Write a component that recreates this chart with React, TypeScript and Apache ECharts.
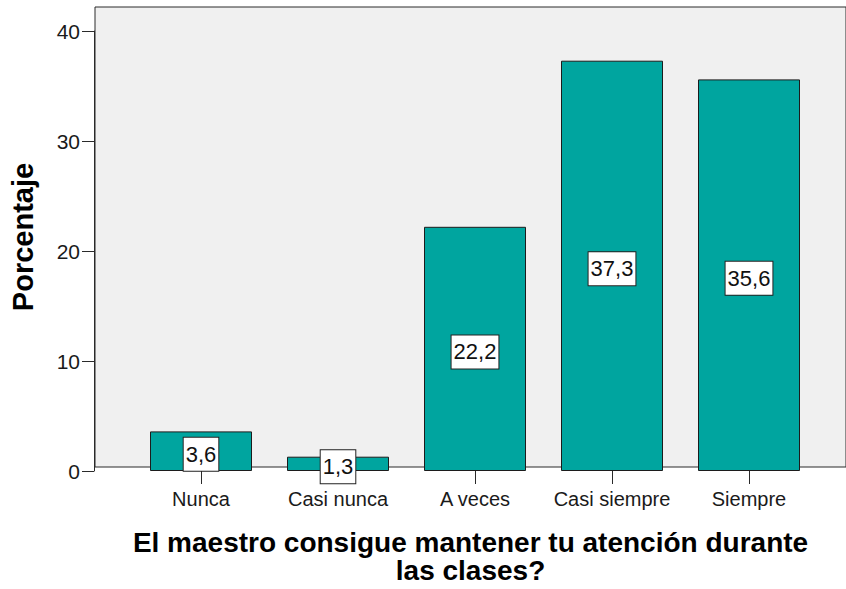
import React, { useEffect, useRef } from "react";
import * as echarts from "echarts";

const categories = ["Nunca", "Casi nunca", "A veces", "Casi siempre", "Siempre"];
const percentages = [3.6, 1.3, 22.2, 37.3, 35.6];
const yTicks = [0, 10, 20, 30, 40];
const yAxisTitle = "Porcentaje";
const xAxisTitle = "El maestro consigue mantener tu atención durante\nlas clases?";

const FONT = "'Liberation Sans', Arial, Helvetica, sans-serif";

export default function App() {
  const ref = useRef<HTMLDivElement>(null);
  useEffect(() => {
    if (!ref.current) return;
    const chart = echarts.init(ref.current, undefined, { renderer: "svg" });
    const yMin = yTicks[0];
    const yMax = yTicks[yTicks.length - 1];
    chart.setOption({
      animation: false,
      backgroundColor: "#ffffff",
      textStyle: { fontFamily: FONT },
      grid: [
        {
          left: 94,
          top: 7,
          width: 762,
          height: 464,
          show: true,
          backgroundColor: "#f0f0f0",
          borderColor: "#2a2a2a",
          borderWidth: 1,
        },
        {
          left: 132.5,
          top: 31,
          width: 685,
          height: 440,
        },
      ],
      xAxis: [
        {
          gridIndex: 0,
          type: "value",
          min: 0,
          max: 1,
          axisLine: { show: false },
          axisTick: { show: false },
          axisLabel: { show: false },
          splitLine: { show: false },
          name: xAxisTitle,
          nameLocation: "middle",
          nameGap: 61,
          nameTextStyle: {
            fontFamily: FONT,
            fontSize: 28,
            fontWeight: "bold",
            color: "#000",
            lineHeight: 28,
            align: "center",
          },
        },
        {
          gridIndex: 1,
          type: "category",
          data: categories,
          axisLine: { show: false },
          axisTick: {
            show: true,
            alignWithLabel: true,
            length: 13,
            lineStyle: { color: "#2a2a2a", width: 1 },
          },
          axisLabel: {
            fontFamily: FONT,
            fontSize: 20,
            color: "#1a1a1a",
            margin: 18,
            interval: 0,
          },
        },
      ],
      yAxis: [
        {
          gridIndex: 0,
          type: "value",
          min: 0,
          max: 1,
          axisLine: { show: false },
          axisTick: { show: false },
          axisLabel: { show: false },
          splitLine: { show: false },
          name: yAxisTitle,
          nameLocation: "middle",
          nameGap: 58,
          nameTextStyle: {
            fontFamily: FONT,
            fontSize: 29,
            fontWeight: "bold",
            color: "#000",
          },
        },
        {
          gridIndex: 1,
          type: "value",
          min: yMin,
          max: yMax,
          interval: 10,
          offset: 38.5,
          axisLine: { show: true, lineStyle: { color: "#2a2a2a", width: 1 } },
          axisTick: { show: true, length: 12, lineStyle: { color: "#2a2a2a", width: 1 } },
          axisLabel: {
            fontFamily: FONT,
            fontSize: 21,
            color: "#1a1a1a",
            margin: 14,
          },
          splitLine: { show: false },
        },
      ],
      series: [
        {
          type: "bar",
          xAxisIndex: 1,
          yAxisIndex: 1,
          data: percentages,
          barWidth: 102,
          itemStyle: {
            color: "#00a59f",
            borderColor: "#1c1c1c",
            borderWidth: 1,
          },
          label: {
            show: true,
            position: "inside",
            offset: [0, 3],
            formatter: (p: any) => Number(p.value).toFixed(1).replace(".", ","),
            fontFamily: FONT,
            fontSize: 22,
            color: "#111",
            backgroundColor: "#ffffff",
            borderColor: "#222",
            borderWidth: 1,
            padding: [6, 2, 5, 2],
          },
        },
      ],
    });
    return () => chart.dispose();
  }, []);
  return (
    <div
      ref={ref}
      style={{ position: "fixed", left: 0, top: 0, width: 846, height: 589 }}
    />
  );
}
